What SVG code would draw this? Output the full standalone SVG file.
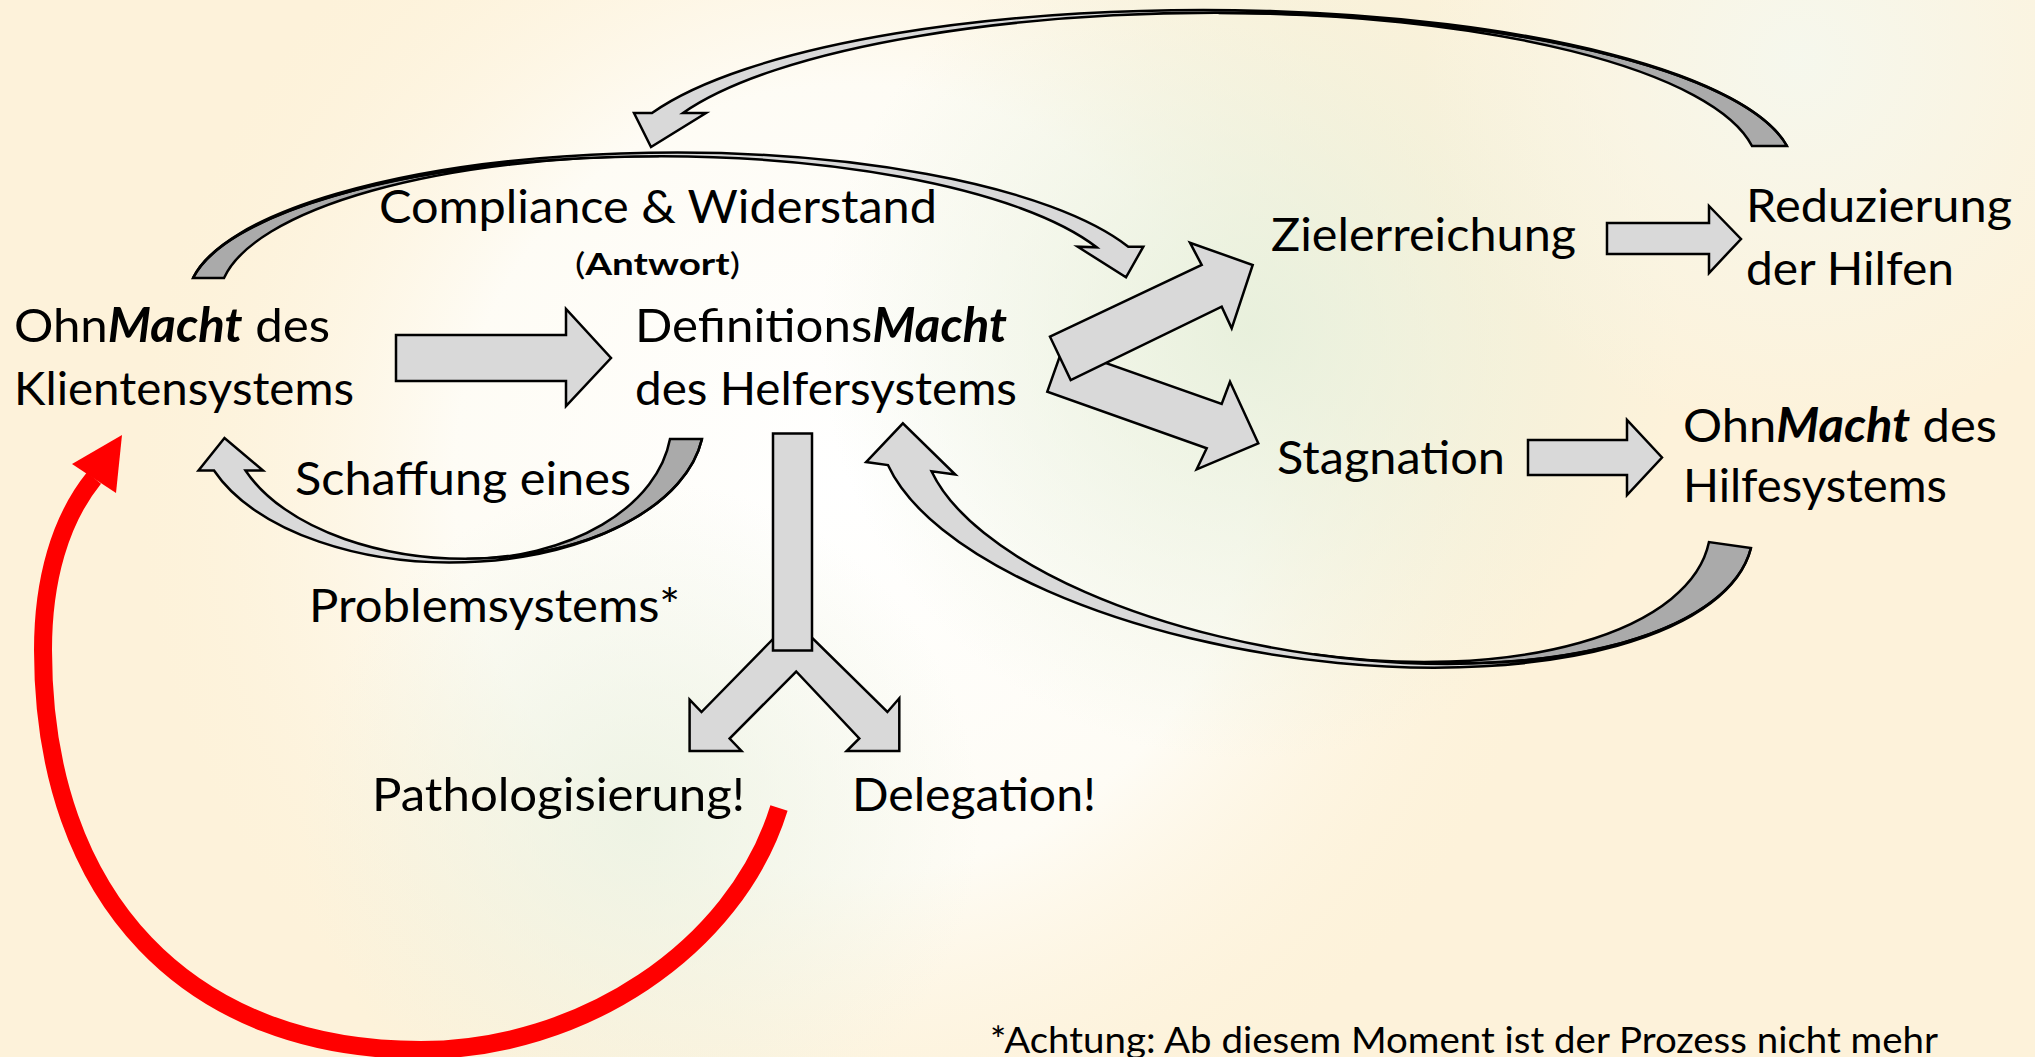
<svg xmlns="http://www.w3.org/2000/svg" width="2035" height="1057" viewBox="0 0 2035 1057">
<defs>
<radialGradient id="wh" gradientUnits="userSpaceOnUse" cx="850" cy="480" r="720">
<stop offset="0" stop-color="#ffffff" stop-opacity="1"/>
<stop offset="0.55" stop-color="#fefdf8" stop-opacity="0.9"/>
<stop offset="1" stop-color="#fdf3dc" stop-opacity="0"/>
</radialGradient>
<radialGradient id="gr" gradientUnits="userSpaceOnUse" cx="1250" cy="330" r="430">
<stop offset="0" stop-color="#e6efda" stop-opacity="0.9"/>
<stop offset="1" stop-color="#e6efda" stop-opacity="0"/>
</radialGradient>
<radialGradient id="gr2" gradientUnits="userSpaceOnUse" cx="640" cy="820" r="340">
<stop offset="0" stop-color="#eaf1e0" stop-opacity="0.8"/>
<stop offset="1" stop-color="#eaf1e0" stop-opacity="0"/>
</radialGradient>
<radialGradient id="gr3" gradientUnits="userSpaceOnUse" cx="1800" cy="60" r="380">
<stop offset="0" stop-color="#f5f8ef" stop-opacity="0.9"/>
<stop offset="1" stop-color="#f5f8ef" stop-opacity="0"/>
</radialGradient>
<style>
.lbl{font-family:Lato,"Open Sans","DejaVu Sans",sans-serif;font-size:47px;fill:#000;}
.sm{font-size:30px;}
.fn{font-size:37px;}
.bi{font-weight:bold;font-style:italic;}
.b{font-weight:bold;}
.face{fill:#d9d9d9;stroke:#000;stroke-width:2.5;stroke-linejoin:miter;}
.back{fill:#aaaaaa;stroke:#000;stroke-width:2.5;}
.red{fill:none;stroke:#ff0000;stroke-width:18;}
</style>
</defs>

<rect x="0" y="0" width="2035" height="1057" fill="#fdf2da"/>
<rect x="0" y="0" width="2035" height="1057" fill="url(#wh)"/>
<rect x="0" y="0" width="2035" height="1057" fill="url(#gr)"/>
<rect x="0" y="0" width="2035" height="1057" fill="url(#gr2)"/>
<rect x="0" y="0" width="2035" height="1057" fill="url(#gr3)"/>

<g id="connectors">
  <!-- top big curved arrow: Reduzierung -> Compliance -->
  <g id="arc-top">
    <path class="back" d="M1787,146 A574.9,157 0 0 0 1218.7,13 A539.8,156 0 0 1 1752,146 Z"/>
    <path class="face" d="M1787,146 A590.2,160 0 0 0 652,113 L634,113 L651,147 L706,113 L683,113 A574.9,157 0 0 1 1787,146 Z"/>
  </g>
  <!-- Compliance arc: Klientensystem -> Zielerreichung -->
  <g id="arc-compliance">
    <path class="back" d="M193,278 A471.3,144 0 0 1 658.8,156 A440,143 0 0 0 224,278 Z"/>
    <path class="face" d="M193,278 A486.6,147 0 0 1 1128.3,246.7 L1143.3,246.7 L1126,277.3 L1077.7,246.7 L1096.7,247.3 A471.3,144 0 0 0 193,278 Z"/>
  </g>
  <!-- Schaffung arc: Helfersystem -> Klientensystem -->
  <g id="arc-schaffung">
    <path class="back" d="M702,439 A237.6,139 0 0 1 466.6,559 A205.4,137 0 0 0 670,439 Z"/>
    <path class="face" d="M702,439 A253.2,142 0 0 1 214,470.5 L198.5,470.5 L224.5,438 L263,470.5 L245.5,470.5 A237.6,139 0 0 0 702,439 Z"/>
  </g>
  <!-- Stagnation arc: Hilfesystem -> Helfersystem -->
  <g id="arc-stagnation" transform="rotate(8 1320 545)">
    <path class="back" d="M1747.2,488 A418.7,174 0 0 1 1328.8,654 A376.6,171 0 0 0 1704.8,488 Z"/>
    <path class="face" d="M1747.2,488 A440.5,180 0 0 1 881,526 L859,526 L890,482.6 L949,526 L925,526 A418.7,174 0 0 0 1747.2,488 Z"/>
  </g>
  <!-- straight block arrows -->
  <polygon class="face" points="396,335 566,335 566,309 611,358 566,406 566,381 396,381"/>
  <polygon class="face" points="1607,223 1709,223 1709,206 1741,239 1709,273 1709,254 1607,254"/>
  <polygon class="face" points="1528,440 1627,440 1627,420 1662,457.5 1627,495 1627,475 1528,475"/>
  <!-- split arrows -->
  <polygon class="face" points="1047.3,391.7 1062.8,347.8 1221.7,404 1230,381.7 1258.3,443.3 1196.7,469.3 1206.7,448.3"/>
  <polygon class="face" points="1050,336.7 1201.7,265 1190,242.7 1252.7,265 1231.7,328.3 1221.7,306.7 1070.7,380"/>
  <!-- Y arrow -->
  <polygon class="face" points="773,639 701.5,712 689.6,699.6 689.6,751 741.5,751 729.6,738.5 796.2,671.5 859.3,738.5 846.7,751 899.3,751 899.3,698.3 887.4,712 812.3,638"/>
  <rect class="face" x="773" y="433.5" width="39" height="217"/>
  <!-- red arrow -->
  <g id="red-arrow">
    <path class="red" d="M779,808 C735,950 580,1050 421,1050 C190,1050 43,900 43,650 C43,580 60,520 94,478"/>
    <polygon fill="#ff0000" points="72,464 122,435 116,493"/>
  </g>
</g>

<g id="n-compliance"><text class="lbl" x="379" y="223" textLength="558" lengthAdjust="spacingAndGlyphs">Compliance &amp; Widerstand</text></g>
<g id="n-antwort"><text class="lbl sm" x="575" y="275" textLength="165" lengthAdjust="spacingAndGlyphs">(<tspan class="b">Antwort</tspan>)</text></g>
<g id="n-klient">
  <text class="lbl" x="14" y="342" textLength="316" lengthAdjust="spacingAndGlyphs">Ohn<tspan class="bi">Macht</tspan> des</text>
  <text class="lbl" x="14" y="405" textLength="340" lengthAdjust="spacingAndGlyphs">Klientensystems</text>
</g>
<g id="n-helfer">
  <text class="lbl" x="635" y="342" textLength="372" lengthAdjust="spacingAndGlyphs">Definitions<tspan class="bi">Macht</tspan></text>
  <text class="lbl" x="635" y="405" textLength="382" lengthAdjust="spacingAndGlyphs">des Helfersystems</text>
</g>
<g id="n-schaffung">
  <text class="lbl" x="295" y="495" textLength="336" lengthAdjust="spacingAndGlyphs">Schaffung eines</text>
  <text class="lbl" x="309" y="622" textLength="371" lengthAdjust="spacingAndGlyphs">Problemsystems*</text>
</g>
<g id="n-patho"><text class="lbl" x="372" y="811" textLength="373" lengthAdjust="spacingAndGlyphs">Pathologisierung!</text></g>
<g id="n-deleg"><text class="lbl" x="852" y="811" textLength="244" lengthAdjust="spacingAndGlyphs">Delegation!</text></g>
<g id="n-ziel"><text class="lbl" x="1271" y="251" textLength="305" lengthAdjust="spacingAndGlyphs">Zielerreichung</text></g>
<g id="n-reduz">
  <text class="lbl" x="1746" y="222" textLength="266" lengthAdjust="spacingAndGlyphs">Reduzierung</text>
  <text class="lbl" x="1746" y="285" textLength="208" lengthAdjust="spacingAndGlyphs">der Hilfen</text>
</g>
<g id="n-stag"><text class="lbl" x="1277" y="474" textLength="228" lengthAdjust="spacingAndGlyphs">Stagnation</text></g>
<g id="n-hilfe">
  <text class="lbl" x="1683" y="442" textLength="314" lengthAdjust="spacingAndGlyphs">Ohn<tspan class="bi">Macht</tspan> des</text>
  <text class="lbl" x="1683" y="502" textLength="264" lengthAdjust="spacingAndGlyphs">Hilfesystems</text>
</g>
<g id="n-footnote"><text class="lbl fn" x="990" y="1053" textLength="948" lengthAdjust="spacingAndGlyphs">*Achtung: Ab diesem Moment ist der Prozess nicht mehr</text></g>
</svg>
